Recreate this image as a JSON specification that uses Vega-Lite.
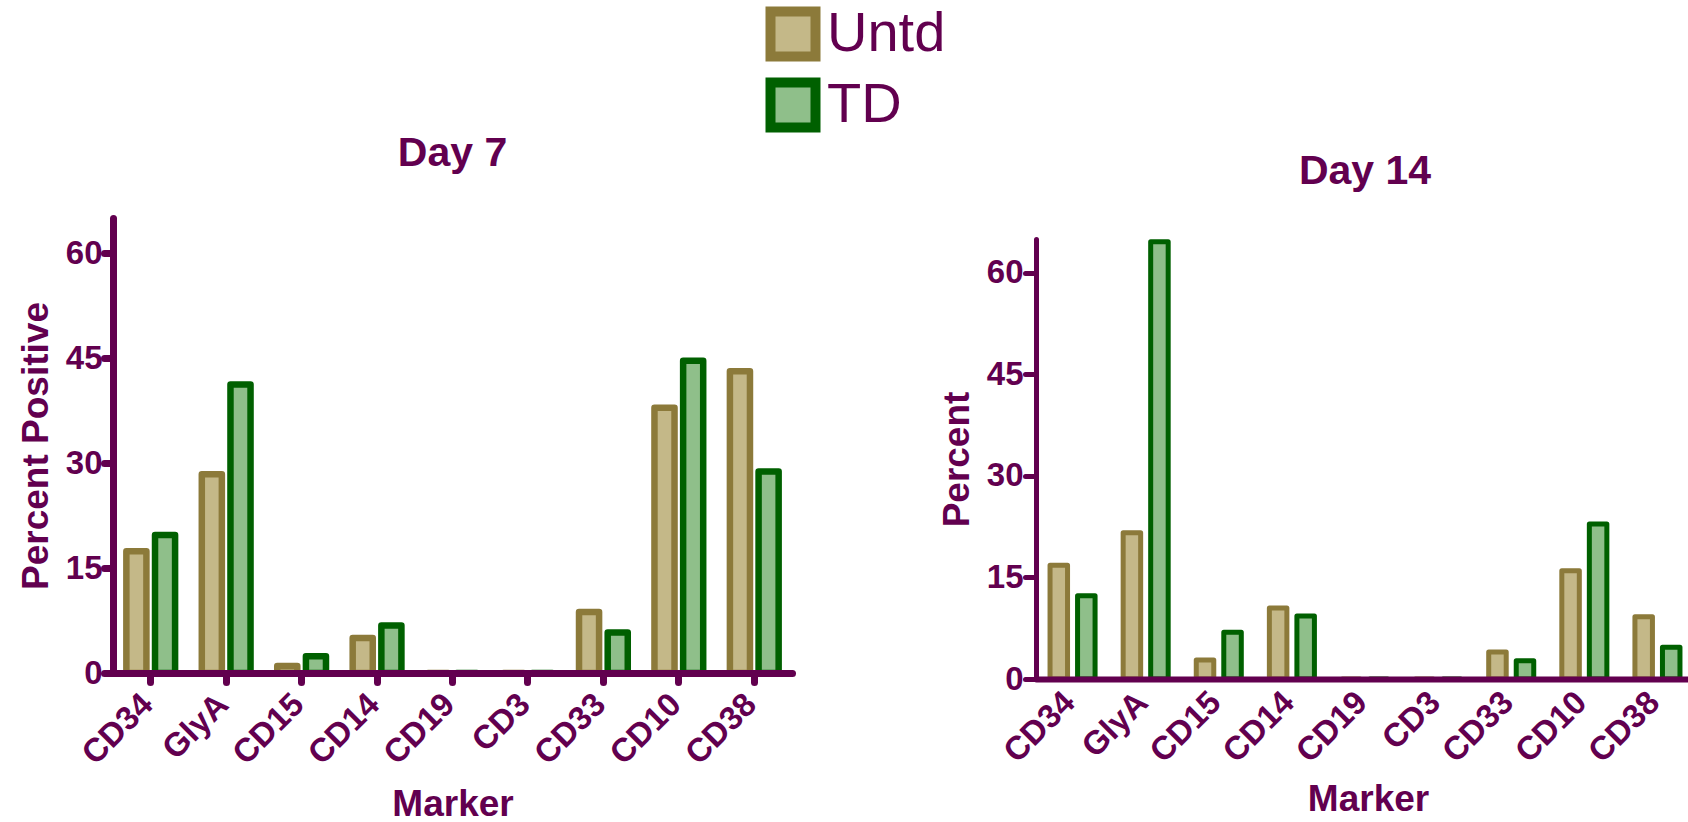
{
  "$schema": "https://vega.github.io/schema/vega-lite/v6.json",
  "background": "white",
  "padding": {"left": 17, "top": 6, "right": 0, "bottom": 0},
  "data": {
    "values": [
      {"day": "Day 7", "marker": "CD34", "treatment": "Untd", "value": 17.4},
      {"day": "Day 7", "marker": "CD34", "treatment": "TD", "value": 19.7},
      {"day": "Day 7", "marker": "GlyA", "treatment": "Untd", "value": 28.4},
      {"day": "Day 7", "marker": "GlyA", "treatment": "TD", "value": 41.2},
      {"day": "Day 7", "marker": "CD15", "treatment": "Untd", "value": 1.0},
      {"day": "Day 7", "marker": "CD15", "treatment": "TD", "value": 2.4},
      {"day": "Day 7", "marker": "CD14", "treatment": "Untd", "value": 5.0},
      {"day": "Day 7", "marker": "CD14", "treatment": "TD", "value": 6.8},
      {"day": "Day 7", "marker": "CD19", "treatment": "Untd", "value": 0},
      {"day": "Day 7", "marker": "CD19", "treatment": "TD", "value": 0},
      {"day": "Day 7", "marker": "CD3", "treatment": "Untd", "value": 0},
      {"day": "Day 7", "marker": "CD3", "treatment": "TD", "value": 0},
      {"day": "Day 7", "marker": "CD33", "treatment": "Untd", "value": 8.7},
      {"day": "Day 7", "marker": "CD33", "treatment": "TD", "value": 5.8},
      {"day": "Day 7", "marker": "CD10", "treatment": "Untd", "value": 37.9},
      {"day": "Day 7", "marker": "CD10", "treatment": "TD", "value": 44.6},
      {"day": "Day 7", "marker": "CD38", "treatment": "Untd", "value": 43.1},
      {"day": "Day 7", "marker": "CD38", "treatment": "TD", "value": 28.8},
      {"day": "Day 14", "marker": "CD34", "treatment": "Untd", "value": 16.8},
      {"day": "Day 14", "marker": "CD34", "treatment": "TD", "value": 12.3},
      {"day": "Day 14", "marker": "GlyA", "treatment": "Untd", "value": 21.6},
      {"day": "Day 14", "marker": "GlyA", "treatment": "TD", "value": 64.6},
      {"day": "Day 14", "marker": "CD15", "treatment": "Untd", "value": 2.8},
      {"day": "Day 14", "marker": "CD15", "treatment": "TD", "value": 6.9},
      {"day": "Day 14", "marker": "CD14", "treatment": "Untd", "value": 10.5},
      {"day": "Day 14", "marker": "CD14", "treatment": "TD", "value": 9.3},
      {"day": "Day 14", "marker": "CD19", "treatment": "Untd", "value": 0},
      {"day": "Day 14", "marker": "CD19", "treatment": "TD", "value": 0},
      {"day": "Day 14", "marker": "CD3", "treatment": "Untd", "value": 0},
      {"day": "Day 14", "marker": "CD3", "treatment": "TD", "value": 0},
      {"day": "Day 14", "marker": "CD33", "treatment": "Untd", "value": 4.0},
      {"day": "Day 14", "marker": "CD33", "treatment": "TD", "value": 2.7},
      {"day": "Day 14", "marker": "CD10", "treatment": "Untd", "value": 16.0},
      {"day": "Day 14", "marker": "CD10", "treatment": "TD", "value": 22.9},
      {"day": "Day 14", "marker": "CD38", "treatment": "Untd", "value": 9.2},
      {"day": "Day 14", "marker": "CD38", "treatment": "TD", "value": 4.7}
    ]
  },
  "config": {
    "font": "Liberation Sans",
    "view": {"stroke": null},
    "axis": {
      "grid": false,
      "domainColor": "#62004F",
      "tickColor": "#62004F",
      "labelColor": "#62004F",
      "titleColor": "#62004F",
      "labelFont": "Liberation Sans",
      "titleFont": "Liberation Sans",
      "labelFontWeight": "bold",
      "titleFontWeight": "bold",
      "domainCap": "round",
      "tickCap": "round"
    },
    "title": {
      "font": "Liberation Sans",
      "fontSize": 41,
      "fontWeight": "bold",
      "color": "#62004F",
      "anchor": "middle",
      "baseline": "alphabetic"
    },
    "legend": {
      "orient": "none",
      "legendX": 652,
      "legendY": -212,
      "symbolType": "square",
      "symbolSize": 2025,
      "symbolStrokeWidth": 10,
      "symbolOpacity": 1,
      "labelFont": "Liberation Sans",
      "labelFontSize": 56,
      "labelFontWeight": "normal",
      "labelColor": "#62004F",
      "labelOffset": 6,
      "rowPadding": -20,
      "labelLimit": 400
    }
  },
  "spacing": 146,
  "resolve": {"scale": {"x": "independent", "y": "independent", "xOffset": "independent"}},
  "hconcat": [
    {
      "title": {"text": "Day 7", "offset": 43.5},
      "width": 679,
      "height": 455,
      "transform": [{"filter": "datum.day === 'Day 7'"}],
      "mark": {"type": "bar", "strokeWidth": 6.5, "strokeJoin": "round"},
      "encoding": {
        "x": {
          "field": "marker",
          "type": "nominal",
          "sort": ["CD34", "GlyA", "CD15", "CD14", "CD19", "CD3", "CD33", "CD10", "CD38"],
          "scale": {"paddingInner": 0.354, "paddingOuter": 0.177},
          "axis": {
            "zindex": 1,
            "title": "Marker",
            "titleFontSize": 37,
            "titlePadding": 16,
            "labelAngle": -45,
            "labelAlign": "right",
            "labelBaseline": "middle",
            "labelFontSize": 33,
            "labelPadding": 17,
            "labelOffset": -3,
            "domainWidth": 7,
            "tickWidth": 7,
            "tickSize": 9
          }
        },
        "xOffset": {
          "field": "treatment",
          "type": "nominal",
          "sort": ["Untd", "TD"],
          "scale": {"paddingInner": 0.3, "paddingOuter": 0}
        },
        "y": {
          "field": "value",
          "type": "quantitative",
          "scale": {"domain": [0, 65], "nice": false},
          "axis": {
            "zindex": 1,
            "title": "Percent Positive",
            "titleFontSize": 37,
            "titlePadding": 10,
            "values": [0, 15, 30, 45, 60],
            "labelFontSize": 33,
            "labelPadding": 2,
            "domainWidth": 7,
            "tickWidth": 7,
            "tickSize": 9
          }
        },
        "fill": {
          "field": "treatment",
          "type": "nominal",
          "scale": {"domain": ["Untd", "TD"], "range": ["#C4B888", "#8FBF8A"]},
          "legend": {"title": null}
        },
        "stroke": {
          "field": "treatment",
          "type": "nominal",
          "scale": {"domain": ["Untd", "TD"], "range": ["#8C7A3A", "#006000"]},
          "legend": {"title": null}
        }
      }
    },
    {
      "title": {"text": "Day 14", "offset": 25},
      "width": 658,
      "height": 461,
      "transform": [{"filter": "datum.day === 'Day 14'"}],
      "mark": {"type": "bar", "strokeWidth": 5, "strokeJoin": "round"},
      "encoding": {
        "x": {
          "field": "marker",
          "type": "nominal",
          "sort": ["CD34", "GlyA", "CD15", "CD14", "CD19", "CD3", "CD33", "CD10", "CD38"],
          "scale": {"paddingInner": 0.384, "paddingOuter": 0.192},
          "axis": {
            "zindex": 1,
            "title": "Marker",
            "titleFontSize": 37,
            "titlePadding": 13,
            "titleX": 332,
            "labelAngle": -45,
            "labelAlign": "right",
            "labelBaseline": "middle",
            "labelFontSize": 33,
            "labelPadding": 18,
            "labelOffset": -3,
            "domainWidth": 6,
            "ticks": false
          }
        },
        "xOffset": {
          "field": "treatment",
          "type": "nominal",
          "sort": ["Untd", "TD"],
          "scale": {"paddingInner": 0.364, "paddingOuter": 0}
        },
        "y": {
          "field": "value",
          "type": "quantitative",
          "scale": {"domain": [0, 65], "nice": false, "range": [461, 21]},
          "axis": {
            "zindex": 1,
            "title": "Percent",
            "titleFontSize": 37,
            "titlePadding": 10,
            "values": [0, 15, 30, 45, 60],
            "labelFontSize": 33,
            "labelPadding": 2,
            "domainWidth": 5,
            "tickWidth": 5,
            "tickSize": 11
          }
        },
        "fill": {
          "field": "treatment",
          "type": "nominal",
          "scale": {"domain": ["Untd", "TD"], "range": ["#C4B888", "#8FBF8A"]},
          "legend": {"title": null}
        },
        "stroke": {
          "field": "treatment",
          "type": "nominal",
          "scale": {"domain": ["Untd", "TD"], "range": ["#8C7A3A", "#006000"]},
          "legend": {"title": null}
        }
      }
    }
  ]
}
